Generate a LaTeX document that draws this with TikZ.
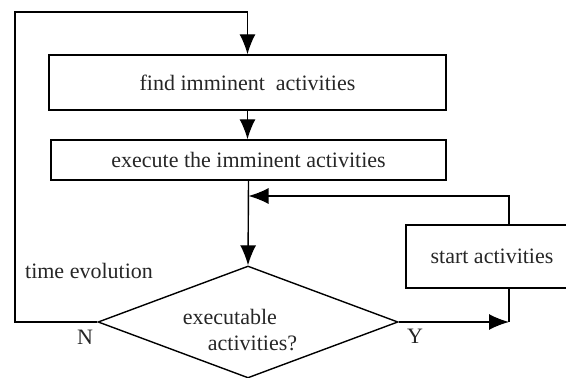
\documentclass[tikz,border=0pt]{standalone}
\usepackage{fontspec}
\setmainfont{Liberation Serif}
\usetikzlibrary{arrows.meta,shapes.geometric}
\tikzset{
  flow/.style={-{Latex[length=10pt,width=8pt]},line width=0.7pt},
  line/.style={line width=0.7pt},
  box/.style={draw,line width=0.7pt,rectangle,inner sep=0pt,text=black!85},
  decision/.style={draw,line width=0.7pt,diamond,inner sep=0pt,minimum width=150pt,minimum height=56pt},
  lbl/.style={inner sep=0pt,text=black!85}
}
\begin{document}
\begin{tikzpicture}[x=0.5pt,y=-0.5pt,font=\fontsize{11}{13}\selectfont]
        \useasboundingbox (0,0) rectangle (566,378);
        \node[box,minimum width=198.5pt,minimum height=27.5pt] (find) at (247.5,82.5) {find imminent~~activities};
        \node[box,minimum width=197.5pt,minimum height=20pt] (exec) at (248.5,160) {execute the imminent activities};
        \node[box,minimum width=86pt,minimum height=31.5pt] (start) at (492,256.5) {start activities};
        \node[decision] (dec) at (248,322) {};
        \node[lbl,align=left] (question) at (240,330) {executable\\\hspace*{12.5pt}activities?};
        \node[lbl] (timeev) at (89,271) {time evolution};
        \node[lbl] (no) at (85,337) {N};
        \node[lbl] (yes) at (415,336) {Y};
        \coordinate (loop) at (15,12);
        \coordinate (ret) at (509,196);
        \coordinate (join) at (509,322);
        \draw[flow] (dec.west) -| (loop) -| (find.north);
        \draw[flow] (find.south) -- (find.south |- exec.north);
        \draw[flow] (exec.south) -- (dec.north);
        \draw[flow] (start.north -| ret) -- (ret) -- (ret -| exec.south);
        \draw[flow] (dec.east) -- (join);
        \draw[line] (start.south -| join) -- (join);
      \end{tikzpicture}
\end{document}
